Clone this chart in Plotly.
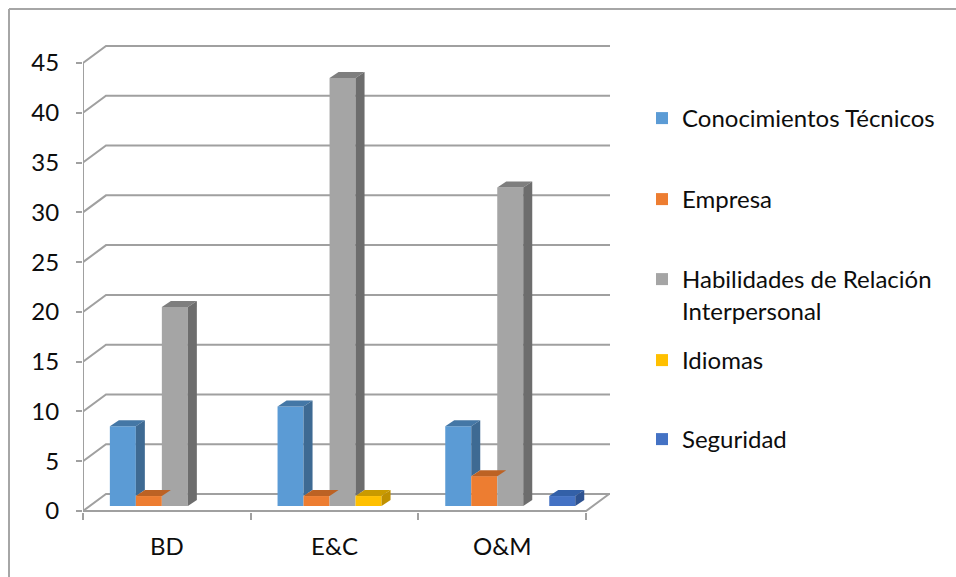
import plotly.graph_objects as go

# ---- data ----
categories = ["BD", "E&C", "O&M"]
conocimientos = [8, 10, 8]
empresa = [1, 1, 3]
habilidades = [20, 43, 32]
idiomas = [0, 1, 0]
seguridad = [0, 0, 1]
y_ticks = [0, 5, 10, 15, 20, 25, 30, 35, 40, 45]

series_names = ["Conocimientos Técnicos", "Empresa",
                "Habilidades de Relación<br>Interpersonal", "Idiomas", "Seguridad"]
series_values = [conocimientos, empresa, habilidades, idiomas, seguridad]
front_colors = ["#5B9BD5", "#ED7D31", "#A5A5A5", "#FFC000", "#4472C4"]
side_colors = ["#3E6A93", "#B15B20", "#6D6D6D", "#BF9000", "#2E5290"]
top_colors = ["#4477A6", "#BC6224", "#7E7E7E", "#C99A00", "#3360A8"]

# ---- page geometry (pixels) ----
W, H = 956, 577
PL, PR, PT, PB = 83, 612, 30, 512          # plot area edges
Y0_PX = 511                                  # pixel row of value 0 on front axis
CAT_PX = 167.7                               # width of one category
UNIT_PX = 448 / 45                           # pixels per value unit
WALL_DX, WALL_DY = 23 / CAT_PX, 17 / UNIT_PX   # depth of floor / back wall
BAR_DX, BAR_DY = 9 / CAT_PX, 6 / UNIT_PX       # depth of each column
SHIFT_X, SHIFT_Y = 8 / CAT_PX, 5 / UNIT_PX     # columns sit a little inside the box

x_range = [-0.5, -0.5 + (PR - PL) / CAT_PX]
y_range = [-(PB - Y0_PX) / UNIT_PX, (Y0_PX - PT) / UNIT_PX]
x2_range = [x_range[0] - SHIFT_X, x_range[1] - SHIFT_X]
y2_range = [y_range[0] - SHIFT_Y, y_range[1] - SHIFT_Y]

n = len(series_values)
bargap = 1 - 5 * 26 / CAT_PX
bw = (1 - bargap) / n
offsets = [-(1 - bargap) / 2 + k * bw for k in range(n)]

FONT = "Lato"
FSIZE = 24
TXT = "#0D0D0D"
GRID = "#A0A0A0"

def px_to_paper_x(px):
    return (px - PL) / (PR - PL)

def px_to_paper_y(py):
    return (PB - py) / (PB - PT)

fig = go.Figure()

# front faces of the columns
legend_rows = [119, 200, 280, 361, 440]
for k in range(n):
    lg = "legend" if k == 0 else f"legend{k + 1}"
    fig.add_trace(go.Bar(
        x=list(range(len(categories))), y=series_values[k],
        width=bw, offset=offsets[k],
        marker=dict(color=front_colors[k], line=dict(width=0)),
        name=series_names[k], xaxis="x2", yaxis="y2", legend=lg,
        hoverinfo="y+name",
    ))

# top and side faces, side faces clipped where the next column hides them
for i in range(len(categories)):
    for k in range(n):
        v = series_values[k][i]
        if v <= 0:
            continue
        left = i + offsets[k]
        right = left + bw
        fig.add_trace(go.Scatter(
            x=[left, right, right + BAR_DX, left + BAR_DX, left],
            y=[v, v, v + BAR_DY, v + BAR_DY, v],
            mode="lines", fill="toself", fillcolor=top_colors[k],
            line=dict(width=0), hoverinfo="skip", showlegend=False,
            xaxis="x2", yaxis="y2"))
        hn = series_values[k + 1][i] if k + 1 < n else 0
        hn = max(hn, 0)
        if hn < v:
            fig.add_trace(go.Scatter(
                x=[right, right, right + BAR_DX, right + BAR_DX, right],
                y=[hn, v, v + BAR_DY, hn + BAR_DY, hn],
                mode="lines", fill="toself", fillcolor=side_colors[k],
                line=dict(width=0), hoverinfo="skip", showlegend=False,
                xaxis="x2", yaxis="y2"))

# back wall gridlines, floor and front axis
x_front_end = -0.5 + len(categories)
x_back_end = -0.5 + (610 - PL) / CAT_PX
shapes = []
for v in y_ticks:
    shapes.append(dict(
        type="path", xref="x", yref="y", layer="below",
        path=f"M {-0.5} {v} L {-0.5 + WALL_DX} {v + WALL_DY} L {x_back_end} {v + WALL_DY}",
        line=dict(color=GRID, width=2)))
shapes.append(dict(
    type="path", xref="x", yref="y", layer="below",
    path=f"M {-0.5} 0 L {x_front_end} 0 L {x_front_end + WALL_DX} {WALL_DY}",
    line=dict(color=GRID, width=2)))
shapes.append(dict(type="line", xref="x", yref="y", layer="below",
                   x0=-0.5, x1=-0.5, y0=0, y1=y_ticks[-1],
                   line=dict(color=GRID, width=2)))
# outer frame
shapes.append(dict(type="line", xref="paper", yref="paper",
                   x0=px_to_paper_x(9), x1=px_to_paper_x(9),
                   y0=px_to_paper_y(9), y1=px_to_paper_y(W),
                   line=dict(color="#A6A6A6", width=2)))
shapes.append(dict(type="line", xref="paper", yref="paper",
                   x0=px_to_paper_x(9), x1=px_to_paper_x(W + 20),
                   y0=px_to_paper_y(9), y1=px_to_paper_y(9),
                   line=dict(color="#A6A6A6", width=2)))

legend_common = dict(
    font=dict(family=FONT, size=FSIZE, color=TXT),
    bgcolor="rgba(0,0,0,0)", borderwidth=0,
    xanchor="left", yanchor="top", itemclick=False, itemdoubleclick=False,
)
legends = {}
for k in range(n):
    key = "legend" if k == 0 else f"legend{k + 1}"
    legends[key] = dict(legend_common,
                        x=px_to_paper_x(642), y=px_to_paper_y(legend_rows[k] - 23),
                        valign="top")

fig.update_layout(
    width=W, height=H,
    margin=dict(l=PL, r=W - PR, t=PT, b=H - PB),
    paper_bgcolor="white", plot_bgcolor="rgba(0,0,0,0)",
    barmode="overlay", showlegend=True,
    font=dict(family=FONT, size=FSIZE, color=TXT),
    xaxis=dict(range=x_range, showgrid=False, zeroline=False, showline=False,
               tickmode="array", tickvals=list(range(len(categories))),
               ticktext=categories, ticks="", ticklabelstandoff=18,
               minor=dict(tickmode="array", tickvals=[-0.5, 0.5, 1.5, 2.5],
                          ticks="outside", ticklen=7, tickcolor=GRID,
                          tickwidth=2, showgrid=False),
               fixedrange=True),
    yaxis=dict(range=y_range, showgrid=False, zeroline=False, showline=False,
               tickmode="array", tickvals=y_ticks, ticks="outside", ticklen=6,
               tickcolor=GRID, tickwidth=2, ticklabelstandoff=12,
               fixedrange=True),
    xaxis2=dict(range=x2_range, overlaying="x", anchor="y2", visible=False,
                fixedrange=True),
    yaxis2=dict(range=y2_range, overlaying="y", anchor="x2", visible=False,
                fixedrange=True),
    shapes=shapes,
    **legends,
)

fig.write_html("out.html", config={"displayModeBar": False})
